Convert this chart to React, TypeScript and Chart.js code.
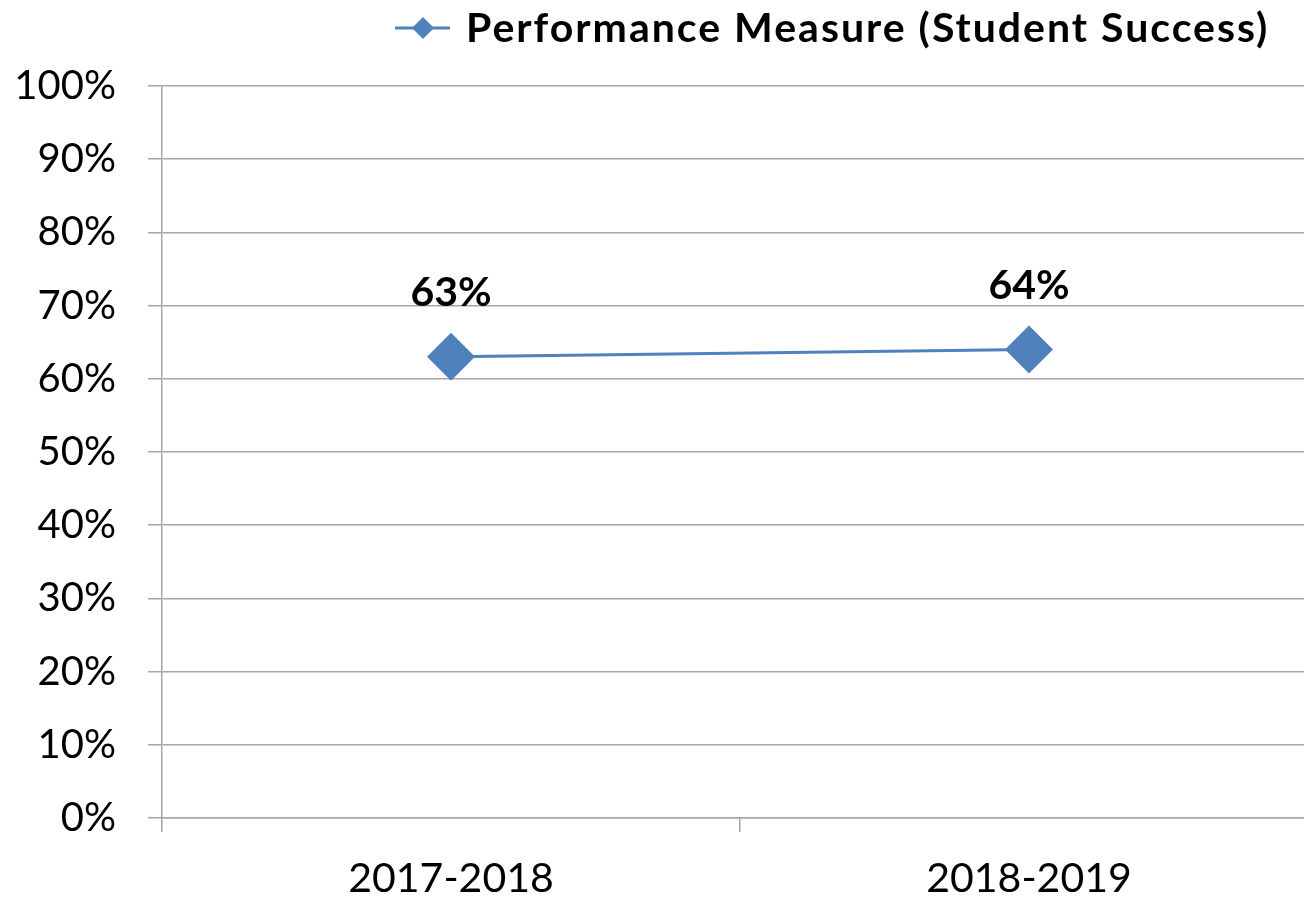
import React, { useEffect, useRef } from "react";
import { Chart, registerables } from "chart.js";

Chart.register(...registerables);

const categories = ["2017-2018", "2018-2019"];
const seriesName = "Performance Measure (Student Success)";
const seriesValues = [63, 64];
const yTicks = [0, 10, 20, 30, 40, 50, 60, 70, 80, 90, 100];

const BLUE = "#4F81BD";
const GRID = "#A6A6A6";
const FONT = "Lato, 'Open Sans', sans-serif";

const customPlugin = {
  id: "customDecor",
  afterDatasetsDraw(chart: any) {
    const ctx = chart.ctx;
    const meta = chart.getDatasetMeta(0);
    ctx.save();
    ctx.fillStyle = "#000";
    ctx.font = `bold 41px ${FONT}`;
    ctx.textAlign = "center";
    ctx.textBaseline = "middle";
    meta.data.forEach((pt: any, i: number) => {
      ctx.fillText(`${seriesValues[i]}%`, pt.x, pt.y - 64);
    });
    ctx.restore();
  },
  afterDraw(chart: any) {
    const ctx = chart.ctx;
    ctx.save();
    const cy = 28;
    const lx = 395;
    ctx.strokeStyle = BLUE;
    ctx.lineWidth = 3;
    ctx.beginPath();
    ctx.moveTo(lx, cy);
    ctx.lineTo(lx + 55, cy);
    ctx.stroke();
    const dx = lx + 28;
    const r = 11;
    ctx.fillStyle = BLUE;
    ctx.beginPath();
    ctx.moveTo(dx, cy - r);
    ctx.lineTo(dx + r, cy);
    ctx.lineTo(dx, cy + r);
    ctx.lineTo(dx - r, cy);
    ctx.closePath();
    ctx.fill();
    ctx.fillStyle = "#000";
    ctx.font = `bold 41px ${FONT}`;
    try {
      (ctx as any).letterSpacing = "2px";
    } catch (e) {}
    ctx.textAlign = "left";
    ctx.textBaseline = "middle";
    ctx.fillText(seriesName, 466, cy + 1);
    ctx.restore();
  },
};

export default function App() {
  const ref = useRef<HTMLCanvasElement | null>(null);
  useEffect(() => {
    if (!ref.current) return;
    const chart = new Chart(ref.current, {
      type: "line",
      data: {
        labels: categories,
        datasets: [
          {
            label: seriesName,
            data: seriesValues,
            borderColor: BLUE,
            backgroundColor: BLUE,
            borderWidth: 3,
            pointStyle: "rectRot",
            pointRadius: 24,
            pointHoverRadius: 24,
            pointBorderWidth: 0,
            pointBackgroundColor: BLUE,
            tension: 0,
          },
        ],
      },
      options: {
        responsive: false,
        animation: false,
        events: [],
        layout: { padding: { top: 86, left: 0, right: 0, bottom: 0 } },
        plugins: {
          legend: { display: false },
          tooltip: { enabled: false },
        },
        scales: {
          x: {
            type: "category",
            offset: true,
            grid: {
              offset: true,
              drawOnChartArea: false,
              drawTicks: true,
              tickLength: 14,
              color: GRID,
              lineWidth: 1.5,
            },
            border: { display: true, color: GRID, width: 1.5 },
            ticks: {
              color: "#000",
              font: { family: FONT, size: 41 },
              padding: 22,
              maxRotation: 0,
            },
            afterFit(scale: any) {
              scale.height = 80;
              scale.paddingLeft = 0;
              scale.paddingRight = 0;
            },
          },
          y: {
            min: 0,
            max: 100,
            afterBuildTicks(scale: any) {
              scale.ticks = yTicks.map((v) => ({ value: v }));
            },
            grid: {
              drawOnChartArea: true,
              drawTicks: true,
              tickLength: 14,
              color: GRID,
              lineWidth: 1.5,
            },
            border: { display: true, color: GRID, width: 1.5 },
            ticks: {
              color: "#000",
              font: { family: FONT, size: 40 },
              padding: 32,
              callback: (v: any) => `${v}%`,
            },
            afterFit(scale: any) {
              scale.width = 162;
            },
          },
        },
      },
      plugins: [customPlugin],
    });
    return () => chart.destroy();
  }, []);
  return (
    <div
      style={{
        position: "absolute",
        left: 0,
        top: 0,
        width: 1304,
        height: 898,
        overflow: "hidden",
        background: "#fff",
      }}
    >
      <canvas ref={ref} width={1342} height={898} style={{ display: "block" }} />
    </div>
  );
}
